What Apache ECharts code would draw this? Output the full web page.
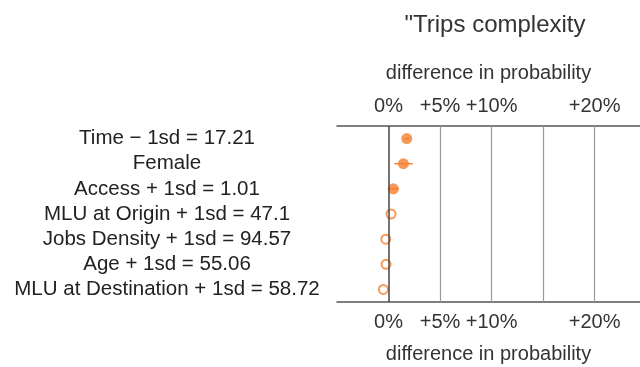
<!DOCTYPE html>
<html>
<head>
<meta charset="utf-8">
<script src="https://cdn.jsdelivr.net/npm/echarts@6/dist/echarts.min.js"></script>
<style>
  html, body { margin: 0; padding: 0; background: #fff; }
  #chart { width: 640px; height: 367px; }
</style>
</head>
<body>
<div id="chart"></div>
<script>
// Scenario labels, top to bottom
const categories = [
  'Time \u2212 1sd = 17.21',
  'Female',
  'Access + 1sd = 1.01',
  'MLU at Origin + 1sd = 47.1',
  'Jobs Density + 1sd = 94.57',
  'Age + 1sd = 55.06',
  'MLU at Destination + 1sd = 58.72'
];
// Difference in probability (%), with interval bounds
const estimate = [1.77, 1.44, 0.47, 0.24, -0.27, -0.24, -0.5];
const lower    = [1.55, 0.56, -0.08, null, null, null, null];
const upper    = [2.0, 2.35, 1.02, null, null, null, null];
// Filled marker when the effect is significant
const significant = [true, true, true, false, false, false, false];

// Axis ticks and grid lines (%)
const gridValues = [0, 5, 10, 15, 20];
const tickValues = [0, 5, 10, 20];
const tickText = ['0%', '+5%', '+10%', '+20%'];

const ORANGE = '#f47f2e';
const FONT = 'Liberation Sans, Arial, sans-serif';

const fmt = v => {
  const i = tickValues.indexOf(v);
  return i >= 0 ? tickText[i] : '';
};

const xAxisBase = {
  type: 'value',
  min: -5,
  max: 24.4,
  interval: 5,
  name: 'difference in probability',
  nameLocation: 'middle',
  nameTextStyle: { fontSize: 20, color: '#333', fontFamily: FONT },
  axisLine: { show: true, lineStyle: { color: '#555', width: 1.5 } },
  axisTick: { show: false },
  splitLine: { show: false },
  axisLabel: { formatter: fmt, fontSize: 20, color: '#333', fontFamily: FONT, margin: 10, showMinLabel: true, showMaxLabel: false, hideOverlap: false }
};

const chart = echarts.init(document.getElementById('chart'), null, { renderer: 'canvas' });

chart.setOption({
  animation: false,
  backgroundColor: '#fff',
  title: {
    text: '"Trips complexity',
    left: 490,
    textAlign: 'center',
    top: 8,
    textStyle: { fontSize: 24, fontWeight: 'normal', color: '#333', fontFamily: FONT }
  },
  grid: { left: 337, right: 0, top: 126, bottom: 65 },
  xAxis: [
    Object.assign({}, xAxisBase, { position: 'top', nameGap: 43 }),
    Object.assign({}, xAxisBase, { position: 'bottom', nameGap: 42 })
  ],
  yAxis: {
    type: 'category',
    data: categories,
    inverse: true,
    axisLine: { show: false },
    axisTick: { show: false },
    splitLine: { show: false },
    axisLabel: { align: 'center', margin: 170, fontSize: 20.5, color: '#222', fontFamily: FONT, interval: 0 }
  },
  series: [
    {
      // vertical reference lines
      type: 'scatter',
      data: [],
      silent: true,
      markLine: {
        symbol: 'none',
        silent: true,
        label: { show: false },
        data: gridValues.map(v => ({
          xAxis: v,
          lineStyle: { color: v === 0 ? '#444' : '#999', width: v === 0 ? 1.5 : 1.2, type: 'solid' }
        }))
      }
    },
    {
      // interval bars
      type: 'custom',
      z: 3,
      data: categories.map((c, i) => [lower[i], upper[i], i]).filter(d => d[0] !== null),
      renderItem: (params, api) => {
        const a = api.coord([api.value(0), api.value(2)]);
        const b = api.coord([api.value(1), api.value(2)]);
        return {
          type: 'line',
          shape: { x1: a[0], y1: a[1], x2: b[0], y2: b[1] },
          style: { stroke: ORANGE, lineWidth: 1.5 }
        };
      }
    },
    {
      type: 'scatter',
      z: 4,
      data: estimate.map((v, i) => ({
        value: [v, i],
        symbolSize: significant[i] ? 11 : 9,
        itemStyle: significant[i]
          ? { color: ORANGE }
          : { color: 'rgba(255,255,255,0)', borderColor: ORANGE, borderWidth: 2 }
      }))
    }
  ]
});
</script>
</body>
</html>
